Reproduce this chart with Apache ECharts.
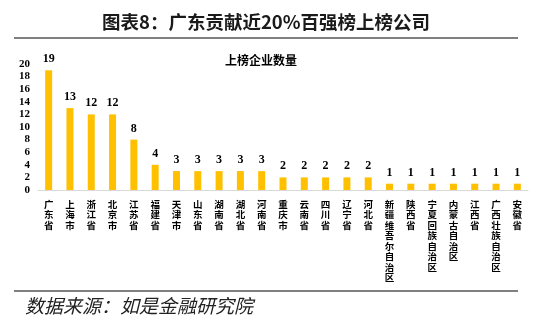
<!DOCTYPE html>
<html>
<head>
<meta charset="utf-8">
<script src="https://cdn.jsdelivr.net/npm/echarts@6/dist/echarts.min.js"></script>
<style>html,body{margin:0;padding:0;background:#fff;}#c{width:550px;height:327px;}</style>
</head>
<body>
<div id="c"></div>
<script>
var categories = ['广东省','上海市','浙江省','北京市','江苏省','福建省','天津市','山东省','湖南省','湖北省','河南省','重庆市','云南省','四川省','辽宁省','河北省','新疆维吾尔自治区','陕西省','宁夏回族自治区','内蒙古自治区','江西省','广西壮族自治区','安徽省'];
var counts = [19,13,12,12,8,4,3,3,3,3,3,2,2,2,2,2,1,1,1,1,1,1,1];
var yTicks = {min:0, max:20, interval:2};

var chart = echarts.init(document.getElementById('c'));
chart.setOption({
  animation:false,
  backgroundColor:'#fff',
  title:[{
    text:'图表8：广东贡献近20%百强榜上榜公司',
    left:97, top:8,
    textStyle:{fontFamily:'"Noto Sans CJK SC"', fontSize:18.5, fontWeight:'bold', color:'#1a1a1a'}
  },{
    text:'上榜企业数量',
    left:220, top:49,
    textStyle:{fontFamily:'"Noto Sans CJK SC"', fontSize:12, fontWeight:'bold', color:'#000'}
  }],
  graphic:[
    {type:'line', shape:{x1:14,y1:38,x2:518,y2:38}, style:{stroke:'#808080', lineWidth:2}},
    {type:'line', shape:{x1:14,y1:291,x2:518,y2:291}, style:{stroke:'#808080', lineWidth:2}},
    {type:'text', left:25, top:296, style:{text:'数据来源：如是金融研究院', font:'italic 19px "Noto Sans CJK SC"', fill:'#222'}}
  ],
  grid:{left:38, right:22, top:64, bottom:137},
  xAxis:{
    type:'category', data:categories,
    axisLine:{lineStyle:{color:'#d9d9d9', width:1}},
    axisTick:{show:false},
    axisLabel:{
      interval:0, margin:9, fontSize:9.5, lineHeight:10.5, fontWeight:'bold',
      fontFamily:'"Noto Sans CJK SC"', color:'#000',
      formatter:function(v){return v.split('').join('\n');}
    }
  },
  yAxis:{
    type:'value', min:yTicks.min, max:yTicks.max, interval:yTicks.interval,
    axisLine:{show:false}, axisTick:{show:false}, splitLine:{show:false},
    axisLabel:{fontSize:11, fontWeight:'bold', color:'#000', fontFamily:'"Liberation Serif"', margin:8}
  },
  series:[{
    type:'bar', data:counts, barWidth:7,
    itemStyle:{color:'#FFC000'},
    label:{show:true, position:'top', distance:5, fontSize:12, fontWeight:'bold', color:'#000', fontFamily:'"Liberation Serif"'}
  }]
});
</script>
</body>
</html>
